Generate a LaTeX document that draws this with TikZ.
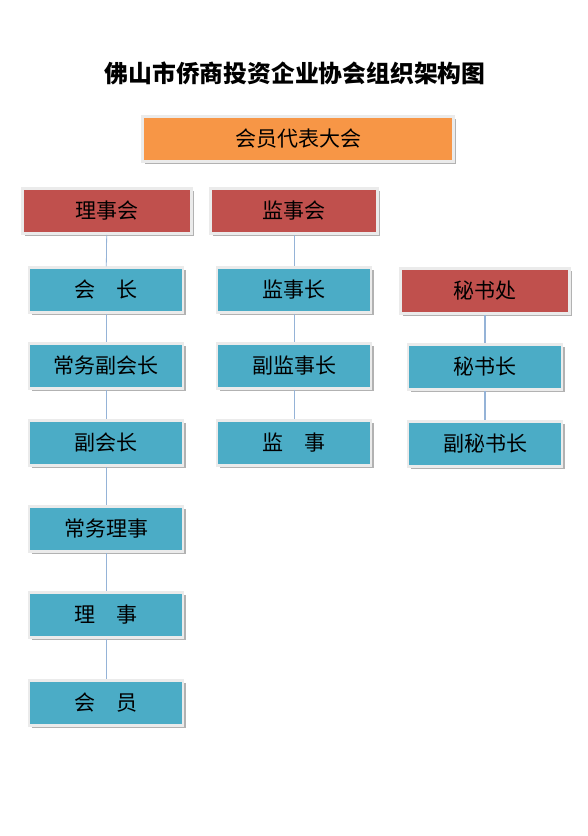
\documentclass[tikz,border=0pt]{standalone}
\usepackage{fontspec}
\setmainfont{Noto Sans CJK SC}
\usetikzlibrary{positioning, shadows}
\definecolor{assemblyorange}{RGB}{247,150,70}
\definecolor{organred}{RGB}{192,80,77}
\definecolor{postteal}{RGB}{75,172,198}
\definecolor{linkblue}{RGB}{149,179,215}

\begin{document}
\begin{tikzpicture}[
    x=1pt, y=-1pt,
    box/.style={rectangle, draw=white!92!black, line width=2.5pt, minimum height=45pt, inner sep=0pt,
        font=\fontsize{21}{23}\selectfont, text=black,
        drop shadow={shadow xshift=2.5pt, shadow yshift=-2.5pt, fill=black!30, opacity=1}},
    assembly/.style={box, fill=assemblyorange, minimum width=311pt},
    organ/.style={box, fill=organred, minimum width=169pt},
    post/.style={box, fill=postteal, minimum width=154pt},
    link/.style={draw=linkblue, line width=0.8pt},
]
\useasboundingbox (0,0) rectangle (588,836);

% Title
\node[font=\fontsize{23.8}{26}\selectfont\bfseries] (title) at (295,73) {佛山市侨商投资企业协会组织架构图};

% Top
\node[assembly] (congress) at (298,139) {会员代表大会};

% Council path
\node[organ] (council) at (107,211) {理事会};
\node[post] (chair) at (106,290) {会\hspace{1em}长};
\node[post] (execvice) at (106,366) {常务副会长};
\node[post] (vicechair) at (106,443) {副会长};
\node[post] (execdir) at (106,529) {常务理事};
\node[post] (director) at (106,615) {理\hspace{1em}事};
\node[post] (member) at (106,703) {会\hspace{1em}员};

% Supervisory path
\node[organ, minimum width=167pt] (supboard) at (294,211) {监事会};
\node[post] (supchief) at (294,290) {监事长};
\node[post] (supvice) at (294,366) {副监事长};
\node[post] (supervisor) at (294,443) {监\hspace{1em}事};

% Secretariat path
\node[organ] (secretariat) at (485,291) {秘书处};
\node[post] (secgen) at (485,367) {秘书长};
\node[post] (secvice) at (485,444) {副秘书长};

% Links
\draw[link] (council) -- (chair);
\draw[link] (chair) -- (execvice);
\draw[link] (execvice) -- (vicechair);
\draw[link] (vicechair) -- (execdir);
\draw[link] (execdir) -- (director);
\draw[link] (director) -- (member);
\draw[link] (supboard) -- (supchief);
\draw[link] (supchief) -- (supvice);
\draw[link] (supvice) -- (supervisor);
\draw[link, line width=1.6pt] (secretariat) -- (secgen);
\draw[link, line width=1.6pt] (secgen) -- (secvice);

\end{tikzpicture}
\end{document}
